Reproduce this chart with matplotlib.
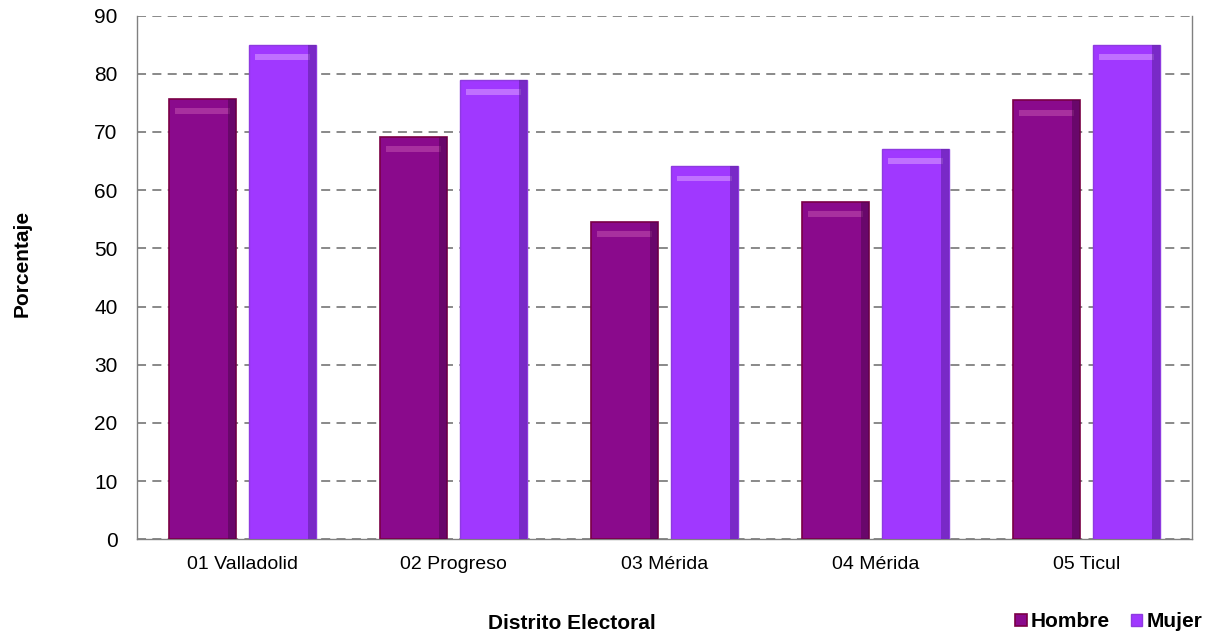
import matplotlib.pyplot as plt
import numpy as np

distritos = ["01 Valladolid", "02 Progreso", "03 Mérida", "04 Mérida", "05 Ticul"]
hombre = [75.7, 69.1, 54.6, 58.0, 75.4]
mujer = [85.0, 79.0, 64.1, 67.1, 85.0]
y_ticks = [0, 10, 20, 30, 40, 50, 60, 70, 80, 90]

plt.rcParams["font.family"] = ["Liberation Sans", "DejaVu Sans"]

fig = plt.figure(figsize=(12.17, 6.39), dpi=100)
ax = fig.add_axes([0.1126, 0.156, 0.8668, 0.8197])

x = np.arange(len(distritos))
width = 0.315
offset = 0.19

ax.bar(x - offset, hombre, width, color="#8A0A8C", edgecolor="#7A0046",
       linewidth=1.2, label="Hombre", zorder=3)
ax.bar(x + offset, mujer, width, color="#A038FF", edgecolor="#8E3AE0",
       linewidth=1.0, label="Mujer", zorder=3)

# bevel effect: light band at top, dark strip on the right
for vals, light, dark in [(hombre, "#A8309F", "#4E0550"), (mujer, "#C070FF", "#5A1E9A")]:
    sign = -1 if vals is hombre else 1
    xs = x + sign * offset
    ax.bar(xs, [1.0] * len(vals), width * 0.82, bottom=np.array(vals) - 2.6,
           color=light, linewidth=0, zorder=4)
    ax.bar(xs + width * 0.44, vals, width * 0.12, color=dark, alpha=0.55,
           linewidth=0, zorder=4)

ax.set_xlim(-0.5, len(distritos) - 0.5)
ax.set_ylim(0, 90)
ax.set_yticks(y_ticks)
ax.set_xticks(x)
ax.set_xticklabels(distritos, fontsize=14)
ax.tick_params(axis="y", labelsize=15, length=0, pad=14)
ax.tick_params(axis="x", length=0, pad=12)

ax.yaxis.grid(True, linestyle=(0, (5, 3.5)), color="#808080", linewidth=1.3, zorder=0)
for side in ["left", "bottom", "right"]:
    ax.spines[side].set_color("#808080")
    ax.spines[side].set_linewidth(1.0)
ax.spines["top"].set_visible(False)

fig.text(0.018, 0.587, "Porcentaje", rotation=90, ha="center", va="center",
         fontsize=15, fontweight="bold")
fig.text(0.47, 0.025, "Distrito Electoral", ha="center", va="center",
         fontsize=15, fontweight="bold")

fig.legend(loc="center right", bbox_to_anchor=(1.0, 0.027), ncol=2, frameon=False,
           prop={"size": 15, "weight": "bold"}, handlelength=0.55, handleheight=0.55,
           handletextpad=0.2, columnspacing=1.0, borderpad=0.2)

fig.savefig("out.png", dpi=100)
